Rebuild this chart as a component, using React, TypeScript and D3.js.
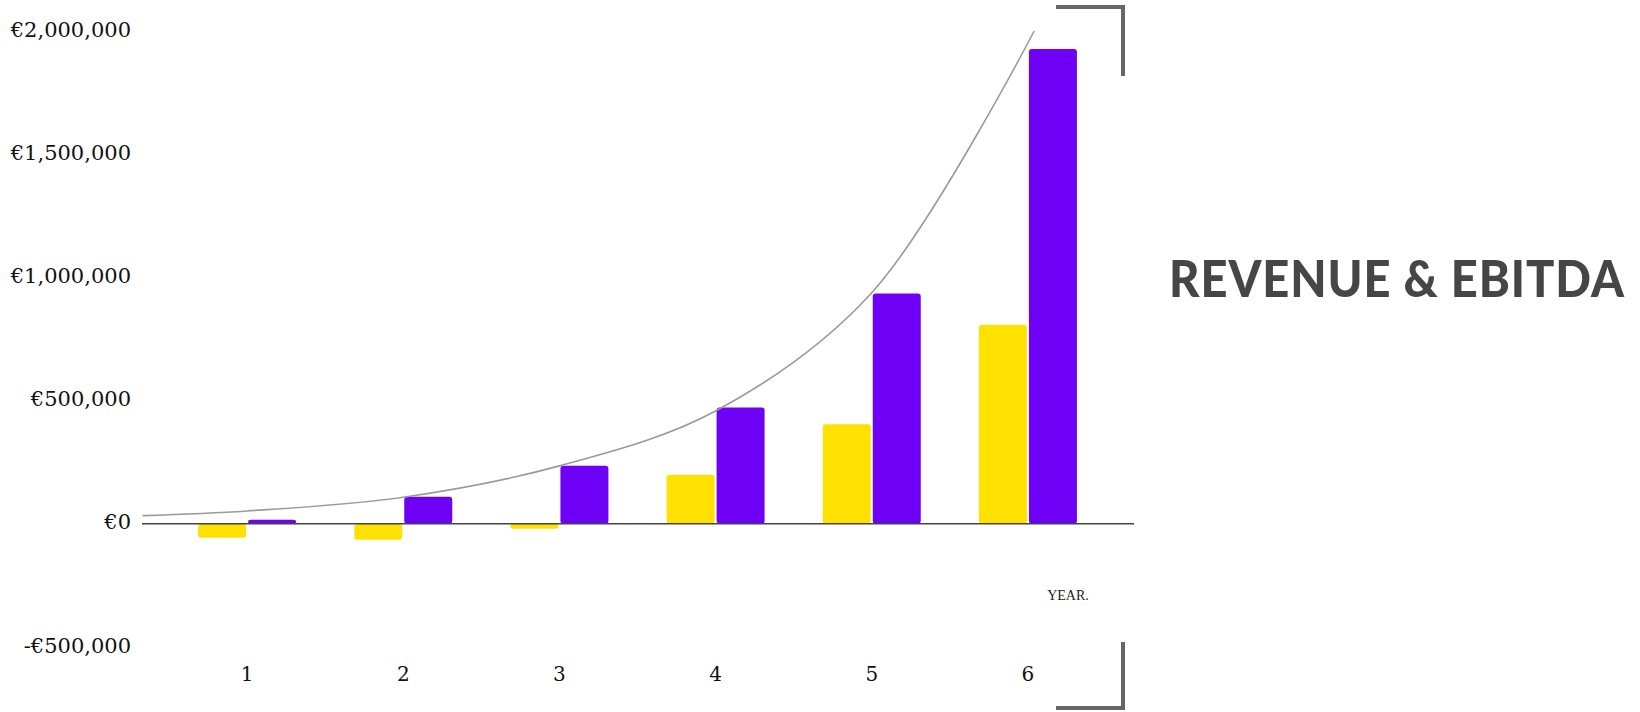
import React, { useLayoutEffect, useRef, useState } from "react";
import * as d3 from "d3";

const years = ["1", "2", "3", "4", "5", "6"];
const ebitda = [-57000, -65000, -20000, 199000, 404000, 808000];
const revenue = [16000, 110000, 236000, 472000, 935000, 1927000];
const trendYears = [0.33, 1, 2, 3, 4, 5, 6.04];
const trendValues = [33000, 52000, 108000, 235000, 458000, 938000, 2000000];
const yTicks = [-500000, 0, 500000, 1000000, 1500000, 2000000];
const title = "REVENUE & EBITDA";
const axisLabel = "YEAR.";

const W = 1640;
const H = 712;
const TITLE_X = 1169;
const TITLE_W = 456;

export default function App() {
  const titleRef = useRef<SVGTextElement>(null);
  const [titleScale, setTitleScale] = useState(1);

  useLayoutEffect(() => {
    if (titleRef.current) {
      const w = titleRef.current.getComputedTextLength();
      if (w > 0) setTitleScale(TITLE_W / w);
    }
  }, []);

  const x = d3.scaleBand<string>().domain(years).range([169, 1106]).paddingInner(0).paddingOuter(0);
  const y = d3.scaleLinear().domain([-500000, 2000000]).range([647, 31]);
  const yearPos = d3
    .scaleLinear()
    .domain([1, 6])
    .range([(x("1") as number) + x.bandwidth() / 2, (x("6") as number) + x.bandwidth() / 2]);
  const barW = 48;
  const gap = 2;
  const fmt = (v: number) => (v < 0 ? "-€" : "€") + d3.format(",")(Math.abs(v));
  const line = d3
    .line<number>()
    .x((_, i) => yearPos(trendYears[i]))
    .y((d) => y(d))
    .curve(d3.curveCatmullRom.alpha(0.5));

  const barRect = (v: number) => {
    const y0 = y(0);
    const yv = y(v);
    return { y: Math.min(y0, yv), h: Math.abs(yv - y0) };
  };

  return (
    <svg width={W} height={H} style={{ position: "absolute", left: 0, top: 0, background: "#fff" }}>
      {yTicks.map((t) => (
        <text
          key={t}
          x={131}
          y={y(t)}
          textAnchor="end"
          dominantBaseline="middle"
          fontFamily="'DejaVu Serif', serif"
          fontSize={21}
          fill="#111"
        >
          {fmt(t)}
        </text>
      ))}
      {years.map((yr, i) => {
        const c = (x(yr) as number) + x.bandwidth() / 2;
        const e = barRect(ebitda[i]);
        const r = barRect(revenue[i]);
        return (
          <g key={yr}>
            <rect x={c - gap / 2 - barW} y={e.y} width={barW} height={e.h} rx={3} fill="#FFE100" />
            <rect x={c + gap / 2} y={r.y} width={barW} height={r.h} rx={3} fill="#6E00F5" />
          </g>
        );
      })}
      <line x1={142} x2={1134} y1={y(0)} y2={y(0)} stroke="#444" strokeWidth={1.6} />
      <path d={line(trendValues) || ""} fill="none" stroke="#9a9a9a" strokeWidth={1.6} />
      {years.map((yr) => (
        <text
          key={yr}
          x={(x(yr) as number) + x.bandwidth() / 2}
          y={681}
          textAnchor="middle"
          fontFamily="'DejaVu Serif', serif"
          fontSize={20}
          fill="#111"
        >
          {yr}
        </text>
      ))}
      <text x={1068} y={600} textAnchor="middle" fontFamily="'Liberation Serif', serif" fontSize={14} fill="#222">
        {axisLabel}
      </text>
      <path d="M1056,7 H1123 V76" fill="none" stroke="#666" strokeWidth={4} />
      <path d="M1123,642 V708 H1056" fill="none" stroke="#666" strokeWidth={4} />
      <g transform={`translate(${TITLE_X},297) scale(${titleScale},1)`}>
        <text
          ref={titleRef}
          x={0}
          y={0}
          fontFamily="Lato, 'Noto Sans', sans-serif"
          fontWeight={900}
          fontSize={51}
          letterSpacing={1}
          fill="#464646"
        >
          {title}
        </text>
      </g>
    </svg>
  );
}
